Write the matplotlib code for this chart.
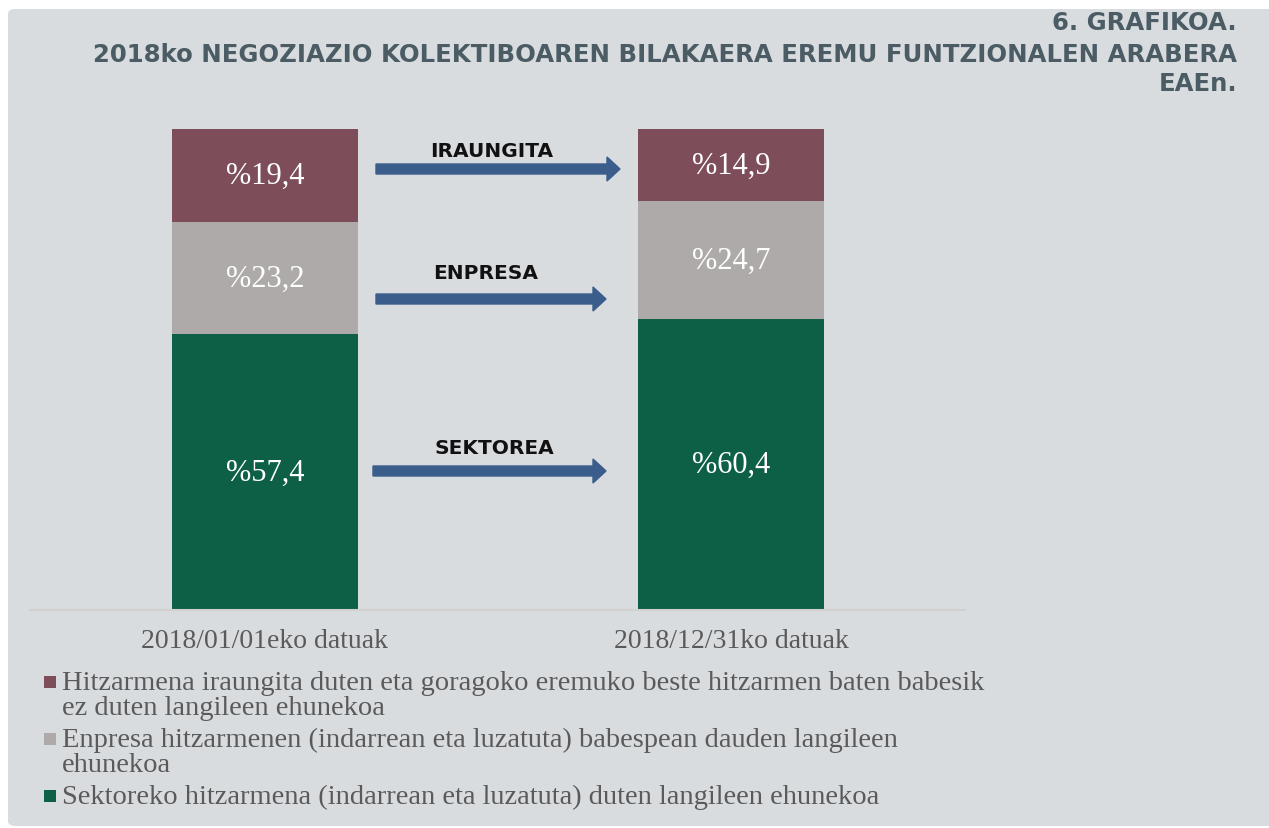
import matplotlib
matplotlib.use("Agg")
import matplotlib.pyplot as plt
from matplotlib.patches import FancyBboxPatch, Rectangle, FancyArrow

# ---- data ----
categories = ["2018/01/01eko datuak", "2018/12/31ko datuak"]
sektorea = [57.4, 60.4]
enpresa = [23.2, 24.7]
iraungita = [19.4, 14.9]
value_labels_sek = ["%57,4", "%60,4"]
value_labels_enp = ["%23,2", "%24,7"]
value_labels_ira = ["%19,4", "%14,9"]
arrow_labels = ["IRAUNGITA", "ENPRESA", "SEKTOREA"]
legend_labels = [
    ["Hitzarmena iraungita duten eta goragoko eremuko beste hitzarmen baten babesik",
     "ez duten langileen ehunekoa"],
    ["Enpresa hitzarmenen (indarrean eta luzatuta) babespean dauden langileen",
     "ehunekoa"],
    ["Sektoreko hitzarmena (indarrean eta luzatuta) duten langileen ehunekoa"],
]
title_lines = [
    "6. GRAFIKOA.",
    "2018ko NEGOZIAZIO KOLEKTIBOAREN BILAKAERA EREMU FUNTZIONALEN ARABERA",
    "EAEn.",
]

# ---- style ----
W, H = 1269, 829
BG = "#d9dcdf"
C_IRA = "#7d4d5a"
C_ENP = "#aeaaa9"
C_SEK = "#0d6046"
C_ARROW = "#3a5d8c"
C_TITLE = "#4b5c65"
C_TEXT = "#5a5a5a"
SERIF = "Liberation Serif"

fig = plt.figure(figsize=(W / 100, H / 100), dpi=100)
fig.patch.set_facecolor("white")

def fx(px):
    return px / W

def fy(py):
    return 1 - py / H

# gray panel
panel = FancyBboxPatch((fx(8), fy(827)), fx(1269 - 8) + 0.01, (827 - 10) / H,
                       boxstyle="round,pad=0,rounding_size=0.006",
                       transform=fig.transFigure, facecolor=BG, edgecolor="none", zorder=-5)
fig.patches.append(panel)

# axes: x 30..965, y 130..611
ax = fig.add_axes([fx(30), fy(611), fx(965 - 30), (611 - 130) / H])
ax.set_zorder(1)
ax.set_facecolor("none")
x = [0, 1]
ax.bar(x, sektorea, width=0.4, color=C_SEK, zorder=2)
ax.bar(x, enpresa, width=0.4, bottom=sektorea, color=C_ENP, zorder=2)
bottom2 = [a + b for a, b in zip(sektorea, enpresa)]
ax.bar(x, iraungita, width=0.4, bottom=bottom2, color=C_IRA, zorder=2)
ax.set_xlim(-0.504, 1.502)
ax.set_ylim(0, 100)

for i in x:
    ax.text(i, sektorea[i] / 2, value_labels_sek[i], ha="center", va="center",
            color="white", fontsize=22, family=SERIF, zorder=3)
    ax.text(i, sektorea[i] + enpresa[i] / 2, value_labels_enp[i], ha="center", va="center",
            color="white", fontsize=22, family=SERIF, zorder=3)
    ax.text(i, bottom2[i] + iraungita[i] / 2, value_labels_ira[i], ha="center", va="center",
            color="white", fontsize=22, family=SERIF, zorder=3)

for s in ["top", "right", "left"]:
    ax.spines[s].set_visible(False)
ax.spines["bottom"].set_color("#d3d0d0")
ax.spines["bottom"].set_linewidth(1.5)
ax.set_yticks([])
ax.set_xticks(x)
ax.set_xticklabels(categories, fontsize=20, family=SERIF, color=C_TEXT)
ax.tick_params(axis="x", length=0, pad=13)

# arrows (pixel positions)
arrows = [
    (376, 620, 170, 152, 492),
    (376, 606, 300, 274, 486),
    (373, 606, 472, 449, 494),
]
for (x0, x1, yy, ty, tx), lab in zip(arrows, arrow_labels):
    fig.patches.append(FancyArrow(fx(x0), fy(yy), fx(x1 - x0), 0,
                                  width=10 / H, head_width=24 / H, head_length=fx(13),
                                  length_includes_head=True, transform=fig.transFigure,
                                  color=C_ARROW, zorder=3))
    fig.text(fx(tx), fy(ty), lab, ha="center", va="center", fontsize=14.5,
             fontweight="heavy", family="DejaVu Sans", color="#111111")

# title
title_y = [23, 55, 84]
for t, yy in zip(title_lines, title_y):
    fig.text(fx(1237), fy(yy), t, ha="right", va="center", fontsize=17.6,
             fontweight="bold", family="DejaVu Sans", color=C_TITLE)

# legend (manual, square aligned with first line)
legend_colors = [C_IRA, C_ENP, C_SEK]
entry_baselines = [690, 747, 804]
line_step = 25
for col, lines, yb in zip(legend_colors, legend_labels, entry_baselines):
    fig.patches.append(Rectangle((fx(44), fy(yb - 1)), fx(12), 12 / H,
                                 transform=fig.transFigure, facecolor=col,
                                 edgecolor="none", zorder=3))
    for k, line in enumerate(lines):
        fig.text(fx(62), fy(yb + k * line_step), line, ha="left", va="baseline",
                 fontsize=20.5, family=SERIF, color=C_TEXT)

fig.savefig("out.png", dpi=100, facecolor=fig.get_facecolor())
